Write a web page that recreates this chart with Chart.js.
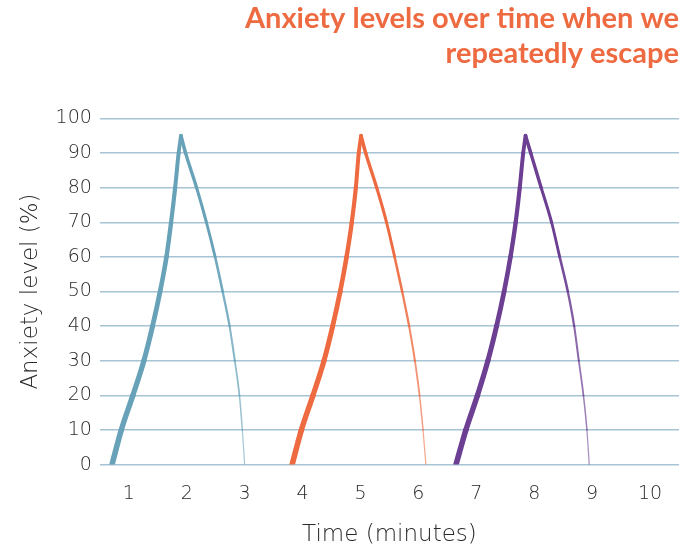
<!DOCTYPE html>
<html>
<head>
<meta charset="utf-8">
<script src="https://cdn.jsdelivr.net/npm/chart.js@4"></script>
<style>
  body { margin: 0; background: #fff; }
  #wrap { width: 682px; height: 551px; position: relative; }
</style>
</head>
<body>
<div id="wrap"><canvas id="anxietyChart" width="682" height="551"></canvas></div>
<script>
// tick labels on the time axis (minutes)
const timeTicks = [1, 2, 3, 4, 5, 6, 7, 8, 9, 10];

// anxiety levels (%)
const riseLevels = [0, 10, 20, 30, 40, 50, 60, 70, 80, 90, 95];
const fallLevels = [95, 90, 80, 70, 60, 50, 40, 30, 20, 10, 0];

// time (minutes) at each level, one pair of arrays per escape
const escape1Rise = [0.71, 0.87, 1.07, 1.26, 1.41, 1.54, 1.65, 1.73, 1.80, 1.86, 1.90];
const escape1Fall = [1.90, 1.98, 2.17, 2.34, 2.49, 2.62, 2.74, 2.83, 2.91, 2.96, 3.00];
const escape2Rise = [3.82, 3.98, 4.18, 4.37, 4.52, 4.65, 4.76, 4.85, 4.92, 4.97, 5.01];
const escape2Fall = [5.01, 5.09, 5.28, 5.45, 5.59, 5.72, 5.84, 5.94, 6.02, 6.08, 6.13];
const escape3Rise = [6.65, 6.82, 7.02, 7.20, 7.35, 7.48, 7.59, 7.68, 7.75, 7.81, 7.85];
const escape3Fall = [7.85, 7.94, 8.12, 8.30, 8.44, 8.58, 8.69, 8.77, 8.85, 8.91, 8.95];

const colors = ["#67a2b9", "#ee6a40", "#6c3f93"];
const gridColor = "#a6c4d3";
const textColor = "#2a2a2a";
const handFont = "'DejaVu Sans', sans-serif";

function toPoints(times, levels) {
  return times.map((t, i) => ({ x: t, y: levels[i] }));
}

// brush look: heavy on the climb, thinning out on the way down
function riseWidth(i) {
  return 5.6 - 0.2 * i;
}
function fallWidth(i) {
  return 3.6 - 0.26 * i;
}
function fallAlpha(i) {
  return i < 4 ? 1 : 1 - 0.07 * (i - 3);
}

function hexAlpha(hex, a) {
  const r = parseInt(hex.slice(1, 3), 16);
  const g = parseInt(hex.slice(3, 5), 16);
  const b = parseInt(hex.slice(5, 7), 16);
  return "rgba(" + r + "," + g + "," + b + "," + a + ")";
}

function makeSet(times, levels, color, falling) {
  return {
    data: toPoints(times, levels),
    borderColor: color,
    borderWidth: 4,
    cubicInterpolationMode: "monotone",
    pointRadius: 0,
    pointHoverRadius: 0,
    fill: false,
    borderCapStyle: "round",
    borderJoinStyle: "round",
    segment: {
      borderWidth: ctx => falling ? fallWidth(ctx.p0DataIndex) : riseWidth(ctx.p0DataIndex),
      borderColor: ctx => falling ? hexAlpha(color, fallAlpha(ctx.p0DataIndex)) : color,
    },
  };
}

document.addEventListener("DOMContentLoaded", function () {
  var ctx = document.getElementById("anxietyChart").getContext("2d");
  new Chart(ctx, {
    type: "line",
    data: {
      datasets: [
        makeSet(escape1Rise, riseLevels, colors[0], false),
        makeSet(escape1Fall, fallLevels, colors[0], true),
        makeSet(escape2Rise, riseLevels, colors[1], false),
        makeSet(escape2Fall, fallLevels, colors[1], true),
        makeSet(escape3Rise, riseLevels, colors[2], false),
        makeSet(escape3Fall, fallLevels, colors[2], true),
      ],
    },
    options: {
      responsive: false,
      animation: false,
      layout: {
        padding: { left: 17, right: 3, top: 0, bottom: 2 },
      },
      scales: {
        x: {
          type: "linear",
          min: 0.5,
          max: 10.5,
          afterBuildTicks: scale => {
            scale.ticks = timeTicks.map(v => ({ value: v }));
          },
          grid: { display: false },
          border: { display: false },
          ticks: {
            color: textColor,
            font: { family: handFont, size: 19, weight: "300" },
            padding: 10,
          },
          title: {
            display: true,
            text: "Time (minutes)",
            color: textColor,
            font: { family: handFont, size: 23, weight: "300" },
            padding: { top: 6, bottom: 0 },
          },
        },
        y: {
          min: 0,
          max: 100,
          ticks: {
            stepSize: 10,
            color: textColor,
            font: { family: handFont, size: 19, weight: "300" },
            padding: 8,
          },
          grid: {
            color: gridColor,
            lineWidth: 1.5,
            drawTicks: false,
          },
          border: { display: false },
          title: {
            display: true,
            text: "Anxiety level (%)",
            color: textColor,
            font: { family: handFont, size: 23, weight: "300" },
            padding: { top: 0, bottom: 3 },
          },
        },
      },
      plugins: {
        legend: { display: false },
        tooltip: { enabled: false },
        title: {
          display: true,
          align: "end",
          text: ["Anxiety levels over time when we", "repeatedly escape"],
          color: "#ee6a40",
          font: { family: "'Lato', sans-serif", size: 29, weight: "bold", lineHeight: 1.18 },
          padding: { top: 2, bottom: 48 },
        },
      },
    },
  });
});
</script>
</body>
</html>
